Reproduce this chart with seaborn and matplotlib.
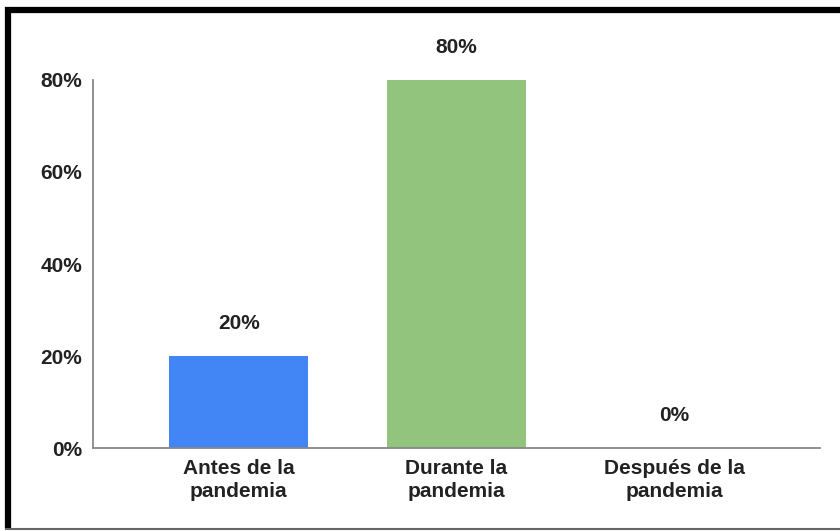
import matplotlib
matplotlib.use("Agg")
import matplotlib.pyplot as plt
import seaborn as sns
import pandas as pd
from matplotlib.lines import Line2D

categorias = ["Antes de la\npandemia", "Durante la\npandemia", "Después de la\npandemia"]
porcentajes = [20, 80, 0]
colores = ["#4285F4", "#93C47D", "#FBBC04"]
ticks_y = [0, 20, 40, 60, 80]

sns.set_theme(style="white")
plt.rcParams["font.family"] = ["Liberation Sans", "DejaVu Sans"]

df = pd.DataFrame({"cat": categorias, "pct": porcentajes})

fig = plt.figure(figsize=(8.4, 5.31), dpi=100)
ax = fig.add_axes([93 / 840, 1 - 448 / 531, (820 - 93) / 840, (448 - 80) / 531])

sns.barplot(data=df, x="cat", y="pct", hue="cat", palette=colores, legend=False,
            width=0.64, saturation=1, linewidth=0, ax=ax)

ax.set_xlim(-0.67, 2.67)
ax.set_ylim(0, 80)
ax.set_yticks(ticks_y)
ax.set_yticklabels([f"{t}%" for t in ticks_y])
ax.set_xlabel("")
ax.set_ylabel("")
ax.tick_params(axis="both", length=0, labelsize=15, colors="#222222")
ax.tick_params(axis="y", pad=8)
ax.tick_params(axis="x", pad=8)
for lab in ax.get_xticklabels() + ax.get_yticklabels():
    lab.set_fontweight("bold")
for lab in ax.get_xticklabels():
    lab.set_linespacing(1.25)

for s in ["top", "right"]:
    ax.spines[s].set_visible(False)
for s in ["left", "bottom"]:
    ax.spines[s].set_color("#888888")
    ax.spines[s].set_linewidth(1.3)

for i, v in enumerate(porcentajes):
    ax.annotate(f"{v}%", (i, v), xytext=(0, 27), textcoords="offset pixels",
                ha="center", va="baseline", fontsize=15, fontweight="bold", color="#222222")

# marco del recuadro
fig.add_artist(Line2D([5 / 840, 1], [1 - 10 / 531, 1 - 10 / 531], color="black", lw=4.5,
                      transform=fig.transFigure, solid_capstyle="butt"))
fig.add_artist(Line2D([8 / 840, 8 / 840], [1 - 7 / 531, 2 / 531], color="black", lw=4.5,
                      transform=fig.transFigure, solid_capstyle="butt"))
fig.add_artist(Line2D([5 / 840, 1], [2 / 531, 2 / 531], color="#666666", lw=1.5,
                      transform=fig.transFigure, solid_capstyle="butt"))

fig.savefig("out.png", dpi=100)
